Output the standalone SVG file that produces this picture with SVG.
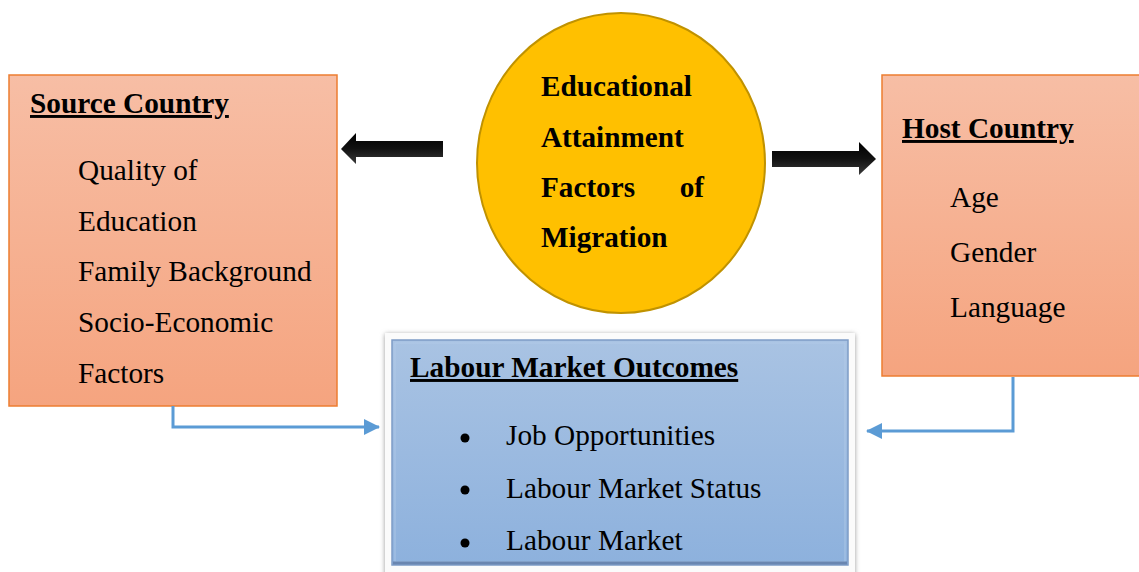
<svg xmlns="http://www.w3.org/2000/svg" width="1139" height="572" viewBox="0 0 1139 572">
<defs>
<linearGradient id="orange" x1="0" y1="0" x2="0" y2="1">
<stop offset="0" stop-color="#F7BEA5"/>
<stop offset="1" stop-color="#F5A47F"/>
</linearGradient>
<linearGradient id="blue" x1="0" y1="0" x2="0" y2="1">
<stop offset="0" stop-color="#A9C3E3"/>
<stop offset="1" stop-color="#8DB1DD"/>
</linearGradient>
<linearGradient id="blk" x1="0" y1="0" x2="0" y2="1">
<stop offset="0" stop-color="#000"/>
<stop offset="0.5" stop-color="#111"/>
<stop offset="1" stop-color="#3a3a3a"/>
</linearGradient>
<filter id="shadow" x="-5%" y="-5%" width="110%" height="110%">
<feGaussianBlur stdDeviation="2.5"/>
</filter>
<marker id="ah" viewBox="0 0 16 16" refX="15" refY="8" markerWidth="16" markerHeight="16" markerUnits="userSpaceOnUse" orient="auto">
<path d="M0,0 L16,8 L0,16 Z" fill="#5B9BD5"/>
</marker>
</defs>
<style>
.box{fill:url(#orange);stroke:#ED7D31;stroke-width:1.5}
.t{font-family:"Liberation Serif","Times New Roman",serif;font-size:29.3px;fill:#000}
.h{font-family:"Liberation Serif","Times New Roman",serif;font-size:29.3px;font-weight:bold;fill:#000;text-decoration:underline}
.b{font-family:"Liberation Serif","Times New Roman",serif;font-size:29.2px;font-weight:bold;fill:#000}
.conn{fill:none;stroke:#5B9BD5;stroke-width:3}
</style>
<rect width="1139" height="572" fill="#fff"/>

<g id="source-country">
<rect class="box" x="9" y="75" width="328" height="331"/>
<text class="h" x="30" y="113">Source Country</text>
<text class="t" x="78" y="180">Quality of</text>
<text class="t" x="78" y="231">Education</text>
<text class="t" x="78" y="281">Family Background</text>
<text class="t" x="78" y="332">Socio-Economic</text>
<text class="t" x="78" y="383">Factors</text>
</g>

<g id="migration-factors">
<ellipse cx="621" cy="163" rx="144" ry="150" fill="#FFC000" stroke="#C09200" stroke-width="2"/>
<text class="b" x="541" y="96">Educational</text>
<text class="b" x="541" y="147">Attainment</text>
<text class="b" x="541" y="197">Factors</text>
<text class="b" x="704" y="197" text-anchor="end">of</text>
<text class="b" x="541" y="247">Migration</text>
</g>

<g id="host-country">
<rect class="box" x="882" y="75" width="262" height="301"/>
<text class="h" x="902" y="138">Host Country</text>
<text class="t" x="950" y="207">Age</text>
<text class="t" x="950" y="262">Gender</text>
<text class="t" x="950" y="317">Language</text>
</g>

<g id="labour-market-outcomes">
<rect x="385" y="334" width="470" height="242" fill="#9a9a9a" filter="url(#shadow)"/>
<rect x="385" y="333" width="470" height="242" fill="#fbfbfb"/>
<rect x="392" y="340" width="456" height="225" fill="url(#blue)" stroke="#7E9CC6" stroke-width="1.5"/>
<rect x="395" y="343" width="450" height="219" fill="none" stroke="#B7CDE8" stroke-width="1" opacity="0.7"/>
<line x1="393" y1="563" x2="847" y2="563" stroke="#6A86B0" stroke-width="3"/>
<text class="h" x="410" y="377">Labour Market Outcomes</text>
<circle cx="465" cy="438" r="4.5" fill="#000"/>
<circle cx="465" cy="490" r="4.5" fill="#000"/>
<circle cx="465" cy="543" r="4.5" fill="#000"/>
<text class="t" x="506" y="445">Job Opportunities</text>
<text class="t" x="506" y="498">Labour Market Status</text>
<text class="t" x="506" y="550">Labour Market</text>
</g>

<g id="connectors">
<path d="M443,141 L356,141 L356,133 L341,149 L356,164 L356,157 L443,157 Z" fill="url(#blk)"/>
<path d="M772,151 L859,151 L859,142 L876,159 L859,175 L859,167 L772,167 Z" fill="url(#blk)"/>
<path class="conn" d="M173,406 L173,427 L379,427" marker-end="url(#ah)"/>
<path class="conn" d="M1013,377 L1013,431 L867,431" marker-end="url(#ah)"/>
</g>
</svg>
